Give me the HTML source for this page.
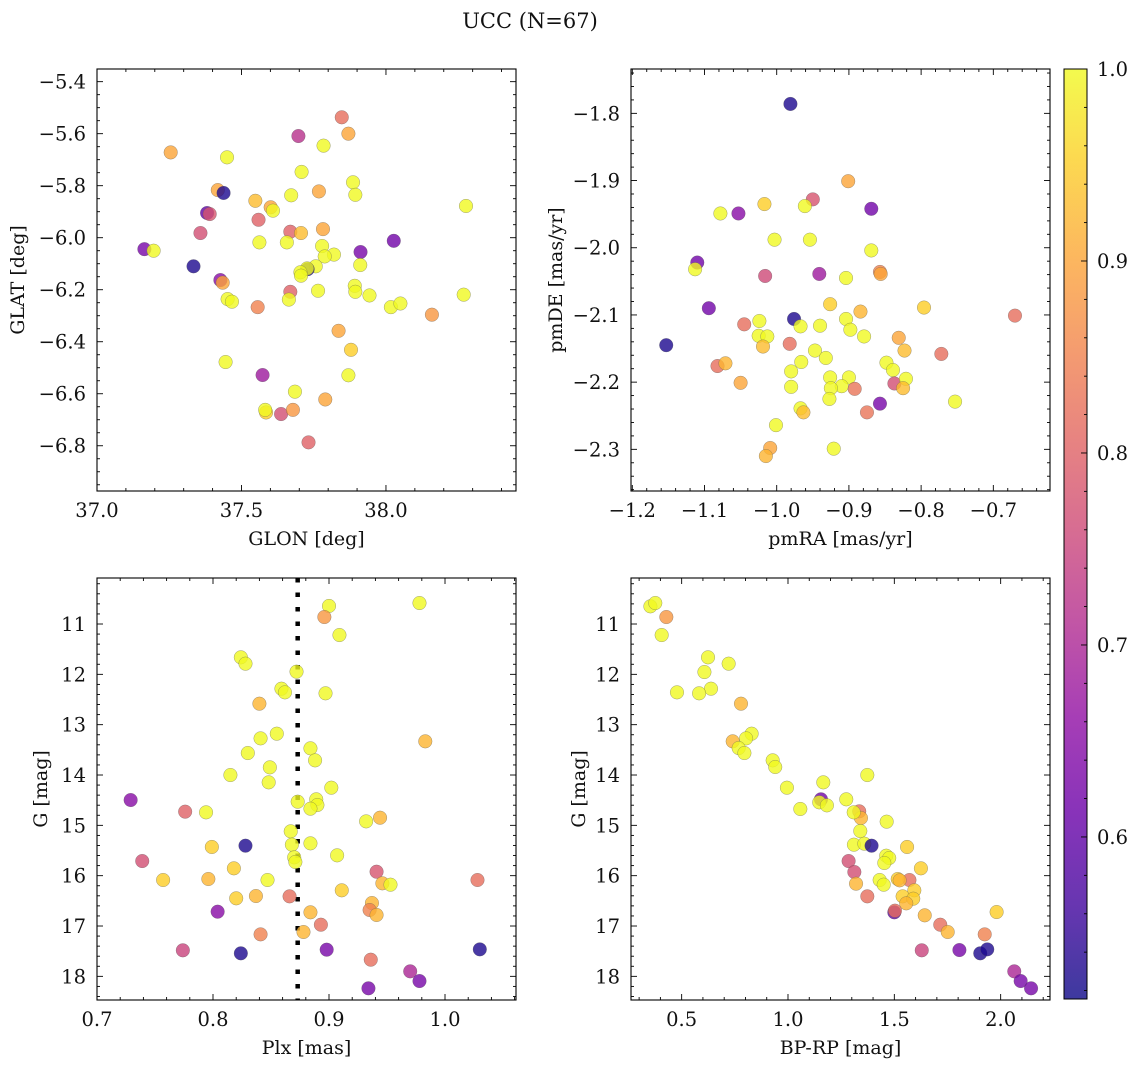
<!DOCTYPE html>
<html><head><meta charset="utf-8"><title>UCC (N=67)</title>
<style>
html,body{margin:0;padding:0;background:#fff;}
svg text{font-family:"DejaVu Serif","Liberation Serif",serif;fill:#111;}
</style></head>
<body>
<svg id="fig" width="1136" height="1068" viewBox="0 0 1136 1068" xmlns="http://www.w3.org/2000/svg">
<text x="530" y="28" font-size="21" text-anchor="middle">UCC (N=67)</text>
</svg>
<script>
// ---- Panel 1: GLON / GLAT ----
const glon = [37.847,37.870,37.697,37.784,37.255,37.450,37.708,37.886,37.894,37.418,37.438,37.672,37.768,38.277,37.548,37.601,37.609,37.381,37.390,37.559,37.358,37.669,37.706,37.782,37.562,37.657,37.779,38.027,37.164,37.196,37.912,37.820,37.788,37.334,37.911,37.757,37.729,37.727,37.704,37.706,37.427,37.435,37.669,37.765,37.892,37.894,37.943,38.269,37.452,37.467,37.664,37.556,38.017,38.050,38.159,37.836,37.879,37.445,37.573,37.870,37.685,37.790,37.585,37.582,37.637,37.678,37.732];
const glat = [-5.537,-5.600,-5.609,-5.646,-5.672,-5.691,-5.747,-5.787,-5.835,-5.817,-5.828,-5.837,-5.822,-5.878,-5.858,-5.883,-5.896,-5.905,-5.909,-5.931,-5.982,-5.977,-5.982,-5.967,-6.018,-6.018,-6.032,-6.012,-6.044,-6.050,-6.055,-6.065,-6.072,-6.110,-6.105,-6.110,-6.121,-6.118,-6.133,-6.146,-6.163,-6.173,-6.208,-6.204,-6.185,-6.208,-6.222,-6.219,-6.236,-6.246,-6.238,-6.267,-6.267,-6.253,-6.296,-6.358,-6.431,-6.478,-6.528,-6.529,-6.592,-6.622,-6.672,-6.662,-6.678,-6.662,-6.787];
const prob1 = [0.82,0.9,0.72,1,0.9,1,1,1,1,0.9,0.53,1,0.9,1,0.93,0.9,1,0.6,0.78,0.8,0.77,0.8,0.93,0.9,1,1,1,0.62,0.63,1,0.63,1,1,0.53,1,1,0.53,1,1,1,0.65,0.9,0.8,1,1,1,1,1,1,1,1,0.85,1,1,0.88,0.9,0.95,1,0.68,1,1,0.9,0.95,1,0.77,0.88,0.8];

// ---- Panel 2: pmRA / pmDE ----
const pmra = [-0.981,-0.901,-0.950,-0.961,-0.869,-1.017,-1.078,-1.053,-1.003,-0.954,-0.869,-1.110,-1.113,-1.016,-0.941,-0.904,-0.857,-0.856,-0.926,-0.884,-0.796,-1.094,-0.976,-0.967,-1.024,-0.940,-0.904,-0.898,-0.879,-0.670,-1.045,-1.025,-1.013,-1.019,-0.982,-1.153,-0.947,-0.932,-0.831,-0.823,-0.772,-1.082,-1.071,-0.966,-0.980,-0.848,-0.839,-1.050,-0.926,-0.900,-0.910,-0.925,-0.892,-0.980,-0.837,-0.821,-0.825,-0.927,-0.857,-0.753,-0.967,-0.963,-0.875,-1.001,-1.009,-1.015,-0.921];
const pmde = [-1.786,-1.901,-1.928,-1.938,-1.942,-1.935,-1.949,-1.949,-1.988,-1.988,-2.004,-2.022,-2.032,-2.042,-2.039,-2.045,-2.036,-2.039,-2.084,-2.095,-2.089,-2.090,-2.106,-2.117,-2.109,-2.116,-2.106,-2.122,-2.132,-2.101,-2.114,-2.131,-2.132,-2.147,-2.143,-2.145,-2.153,-2.164,-2.134,-2.153,-2.158,-2.176,-2.172,-2.170,-2.184,-2.171,-2.182,-2.201,-2.193,-2.193,-2.206,-2.209,-2.210,-2.207,-2.202,-2.195,-2.209,-2.225,-2.232,-2.229,-2.239,-2.245,-2.245,-2.264,-2.298,-2.310,-2.299];
const prob2 = [0.53,0.9,0.78,1,0.62,0.95,1,0.65,1,1,1,0.62,1,0.76,0.68,1,0.85,0.9,0.95,0.92,0.95,0.62,0.53,1,1,1,1,1,1,0.82,0.82,1,1,0.93,0.82,0.53,1,1,0.9,0.93,0.82,0.82,0.92,1,1,1,1,0.9,1,1,1,1,0.83,1,0.77,1,0.93,1,0.63,1,1,0.93,0.83,1,0.9,0.92,1];

// ---- Panel 3: Plx / G ----
const plx = [0.900,0.978,0.896,0.909,0.824,0.828,0.872,0.859,0.862,0.897,0.840,0.855,0.841,0.983,0.884,0.830,0.888,0.849,0.815,0.848,0.902,0.729,0.873,0.889,0.890,0.884,0.776,0.794,0.932,0.944,0.867,0.868,0.828,0.799,0.884,0.907,0.870,0.871,0.739,0.818,0.941,0.757,0.796,0.847,0.946,0.953,1.028,0.911,0.866,0.820,0.837,0.937,0.935,0.941,0.804,0.884,0.893,0.878,0.841,0.774,0.824,0.898,1.030,0.936,0.970,0.978,0.934];
const gmag3 = [10.642,10.583,10.861,11.219,11.662,11.788,11.947,12.285,12.358,12.377,12.583,13.179,13.272,13.331,13.470,13.563,13.709,13.848,14.0,14.146,14.252,14.497,14.530,14.483,14.596,14.669,14.728,14.742,14.921,14.848,15.119,15.384,15.404,15.430,15.358,15.596,15.636,15.728,15.709,15.854,15.921,16.086,16.066,16.086,16.152,16.179,16.086,16.291,16.411,16.450,16.404,16.543,16.682,16.781,16.715,16.728,16.974,17.119,17.166,17.483,17.543,17.470,17.464,17.669,17.901,18.093,18.238];
const prob3 = [1,1,0.88,1,1,1,1,1,1,1,0.92,1,1,0.92,1,1,1,1,1,1,1,0.65,1,1,1,1,0.8,1,1,0.92,1,1,0.53,0.95,1,1,1,1,0.77,0.95,0.78,0.95,0.92,1,0.92,1,0.82,0.95,0.82,0.95,0.92,0.92,0.85,0.92,0.65,0.92,0.82,0.92,0.85,0.75,0.53,0.63,0.53,0.82,0.7,0.63,0.63];

// ---- Panel 4: BP-RP / G ----
const bprp = [0.353,0.376,0.428,0.406,0.624,0.607,0.721,0.638,0.582,0.478,0.779,0.829,0.803,0.740,0.768,0.795,0.928,0.940,1.373,1.166,0.995,1.058,1.155,1.147,1.183,1.274,1.335,1.343,1.309,1.340,1.464,1.310,1.359,1.393,1.560,1.462,1.476,1.453,1.285,1.625,1.312,1.571,1.516,1.525,1.431,1.450,1.320,1.594,1.373,1.539,1.589,1.556,1.500,1.503,1.643,1.716,1.751,1.981,1.925,1.629,1.806,1.904,1.937,2.064,2.094,2.143];
const gmag4 = [10.649,10.583,10.861,11.219,11.662,11.954,11.788,12.285,12.377,12.358,12.583,13.179,13.272,13.331,13.464,13.563,13.709,13.841,14.0,14.146,14.252,14.675,14.483,14.543,14.603,14.483,14.722,14.854,14.742,15.113,14.927,15.384,15.364,15.404,15.430,15.603,15.649,15.748,15.709,15.854,15.927,16.086,16.066,16.093,16.086,16.179,16.159,16.291,16.411,16.411,16.457,16.550,16.728,16.695,16.788,16.974,17.119,16.722,17.166,17.483,17.477,17.543,17.464,17.901,18.093,18.238];
const prob4 = [1,1,0.88,1,1,1,1,1,1,1,0.92,1,1,0.92,1,1,1,1,1,1,1,1,0.62,1,1,1,0.82,0.92,1,1,1,1,1,0.53,0.95,1,1,1,0.77,0.95,0.77,0.82,0.95,0.92,1,1,0.92,0.95,0.82,0.95,0.95,0.92,0.6,0.82,0.92,0.82,0.92,0.95,0.85,0.75,0.63,0.53,0.53,0.7,0.63,0.63];

// ---- Tick labels / colorbar ----
const p1xTicks = [37.0,37.5,38.0];
const p1yTicks = [-5.4,-5.6,-5.8,-6.0,-6.2,-6.4,-6.6,-6.8];
const p2xTicks = [-1.2,-1.1,-1.0,-0.9,-0.8,-0.7];
const p2yTicks = [-1.8,-1.9,-2.0,-2.1,-2.2,-2.3];
const p3xTicks = [0.7,0.8,0.9,1.0];
const gTicks = [11,12,13,14,15,16,17,18];
const p4xTicks = [0.5,1.0,1.5,2.0];
const cbTicks = [0.6,0.7,0.8,0.9,1.0];
const plxRef = [0.873];

const NS = 'http://www.w3.org/2000/svg';
const svg = document.getElementById('fig');
const TFS = 19.5, LFS = 19;
function mk(tag, attrs, parent){ const e=document.createElementNS(NS,tag); for(const k in attrs) e.setAttribute(k,attrs[k]); (parent||svg).appendChild(e); return e; }

const VMIN=0.5156, VMAX=1.0;
const plasma=[[13,8,135],[65,4,157],[106,0,168],[143,13,164],[177,42,144],[204,71,120],[225,100,98],[242,132,75],[252,166,54],[252,206,37],[240,249,33]];
function cmap(v){
  let t=(v-VMIN)/(VMAX-VMIN); t=Math.max(0,Math.min(1,t));
  const f=t*10, i=Math.min(9,Math.floor(f)), r=f-i;
  const a=plasma[i], b=plasma[i+1];
  return 'rgb('+[0,1,2].map(k=>Math.round(a[k]+(b[k]-a[k])*r)).join(',')+')';
}
function fmt(v,d){ const s=Math.abs(v).toFixed(d); return (v<0?'\u2212':'')+s; }

function panel(o){
  const g=mk('g',{});
  
  
  const X=v=>o.x0+(v-o.xmin)/(o.xmax-o.xmin)*(o.x1-o.x0);
  const Y=v=>o.y0+(v-o.ymax)/(o.ymin-o.ymax)*(o.y1-o.y0);
  const mt=mk('g',{stroke:'#000','stroke-width':0.9},g);
  
  
  const lo=Math.min(o.xmin,o.xmax), hi=Math.max(o.xmin,o.xmax);
  for(let v=Math.ceil(lo/o.xminor-1e-6)*o.xminor; v<=hi+1e-9; v+=o.xminor){
    const px=X(v); if(px<o.x0-0.1||px>o.x1+0.1) continue;
    const major=o.xt.some(t=>Math.abs(t-v)<o.xminor/10); const L=major?6:3;
    mk('line',{x1:px,x2:px,y1:o.y1,y2:o.y1-L},mt); mk('line',{x1:px,x2:px,y1:o.y0,y2:o.y0+L},mt);
  }
  const ylo=Math.min(o.ymin,o.ymax), yhi=Math.max(o.ymin,o.ymax);
  for(let v=Math.ceil(ylo/o.yminor-1e-6)*o.yminor; v<=yhi+1e-9; v+=o.yminor){
    const py=Y(v); if(py<o.y0-0.1||py>o.y1+0.1) continue;
    const major=o.yt.some(t=>Math.abs(t-v)<o.yminor/10); const L=major?6:3;
    mk('line',{x1:o.x0,x2:o.x0+L,y1:py,y2:py},mt); mk('line',{x1:o.x1,x2:o.x1-L,y1:py,y2:py},mt);
  }
  o.xt.forEach(v=>{ const t=mk('text',{x:X(v),y:o.y1+26,'font-size':TFS,'text-anchor':'middle'},g); t.textContent=fmt(v,o.xd);
      });
  o.yt.forEach(v=>{ const t=mk('text',{x:o.x0-11,y:Y(v)+7,'font-size':TFS,'text-anchor':'end'},g); t.textContent=fmt(v,o.yd);
      });
  const xl=mk('text',{x:(o.x0+o.x1)/2,y:o.y1+54,'font-size':LFS,'text-anchor':'middle'},g); xl.textContent=o.xlabel;
   
  const yl=mk('text',{x:o.ylx,y:(o.y0+o.y1)/2,'font-size':LFS,'text-anchor':'middle',transform:'rotate(-90 '+o.ylx+' '+((o.y0+o.y1)/2)+')'},g); yl.textContent=o.ylabel;
   
  if(o.vline){ o.vline.forEach(v=>{ const l=mk('line',{x1:X(v),x2:X(v),y1:o.y0,y2:o.y1,stroke:'#000','stroke-width':4.5,'stroke-dasharray':'4.5 10'},g);
      }); }
  const pts=mk('g',{},g);
  
  
  for(let i=0;i<o.xs.length;i++){
    const c=mk('circle',{cx:X(o.xs[i]),cy:Y(o.ys[i]),r:6.8,fill:cmap(o.ps[i]),'fill-opacity':0.8,stroke:'#555','stroke-opacity':0.55,'stroke-width':0.5},pts);
    
    
  }
  const fr=mk('rect',{x:o.x0,y:o.y0,width:o.x1-o.x0,height:o.y1-o.y0,fill:'none',stroke:'#000','stroke-width':1.1},g);
  
  
}

panel({name:'glon-glat-panel',x0:97,x1:516,y0:69,y1:491,xmin:37.0,xmax:38.45,ymin:-6.974,ymax:-5.3513,xt:p1xTicks,yt:p1yTicks,xminor:0.1,yminor:0.05,xd:1,yd:1,xs:glon,ys:glat,ps:prob1,xlabel:'GLON [deg]',ylabel:'GLAT [deg]',ylx:24});
panel({name:'pm-panel',x0:631,x1:1050,y0:69,y1:491,xmin:-1.2018,xmax:-0.6215,ymin:-2.362,ymax:-1.734,xt:p2xTicks,yt:p2yTicks,xminor:0.02,yminor:0.02,xd:1,yd:1,xs:pmra,ys:pmde,ps:prob2,xlabel:'pmRA [mas/yr]',ylabel:'pmDE [mas/yr]',ylx:562});
panel({name:'plx-g-panel',x0:97,x1:516,y0:578,y1:1000,xmin:0.7,xmax:1.0612,ymin:18.470,ymax:10.086,xt:p3xTicks,yt:gTicks,xminor:0.02,yminor:0.2,xd:1,yd:0,xs:plx,ys:gmag3,ps:prob3,xlabel:'Plx [mas]',ylabel:'G [mag]',ylx:47,vline:plxRef});
panel({name:'cmd-panel',x0:631,x1:1050,y0:578,y1:1000,xmin:0.2618,xmax:2.232,ymin:18.470,ymax:10.086,xt:p4xTicks,yt:gTicks,xminor:0.1,yminor:0.2,xd:1,yd:0,xs:bprp,ys:gmag4,ps:prob4,xlabel:'BP-RP [mag]',ylabel:'G [mag]',ylx:585});

// colorbar
(function(){
  const x0=1064,x1=1087,y0=69,y1=999;
  const g=mk('g',{});
  
  
  const defs=mk('defs',{},g);
  const lg=mk('linearGradient',{id:'cbg',x1:0,y1:1,x2:0,y2:0},defs);
  plasma.forEach((c,i)=>mk('stop',{offset:(i/10),'stop-color':'rgb('+c.join(',')+')','stop-opacity':0.8},lg));
  mk('rect',{x:x0,y:y0,width:x1-x0,height:y1-y0,fill:'url(#cbg)',stroke:'#000','stroke-width':1},g);
  const Y=v=>y1-(v-VMIN)/(VMAX-VMIN)*(y1-y0);
  for(let v=0.52;v<=1.0001;v+=0.02){ const py=Y(v); const major=cbTicks.some(t=>Math.abs(t-v)<0.001);
    mk('line',{x1:x1,x2:x1-(major?6:3),y1:py,y2:py,stroke:'#000','stroke-width':0.9},g); }
  cbTicks.forEach(v=>{ const t=mk('text',{x:x1+10,y:Y(v)+7,'font-size':TFS},g); t.textContent=v.toFixed(1);
      });
})();
</script>
</body></html>
